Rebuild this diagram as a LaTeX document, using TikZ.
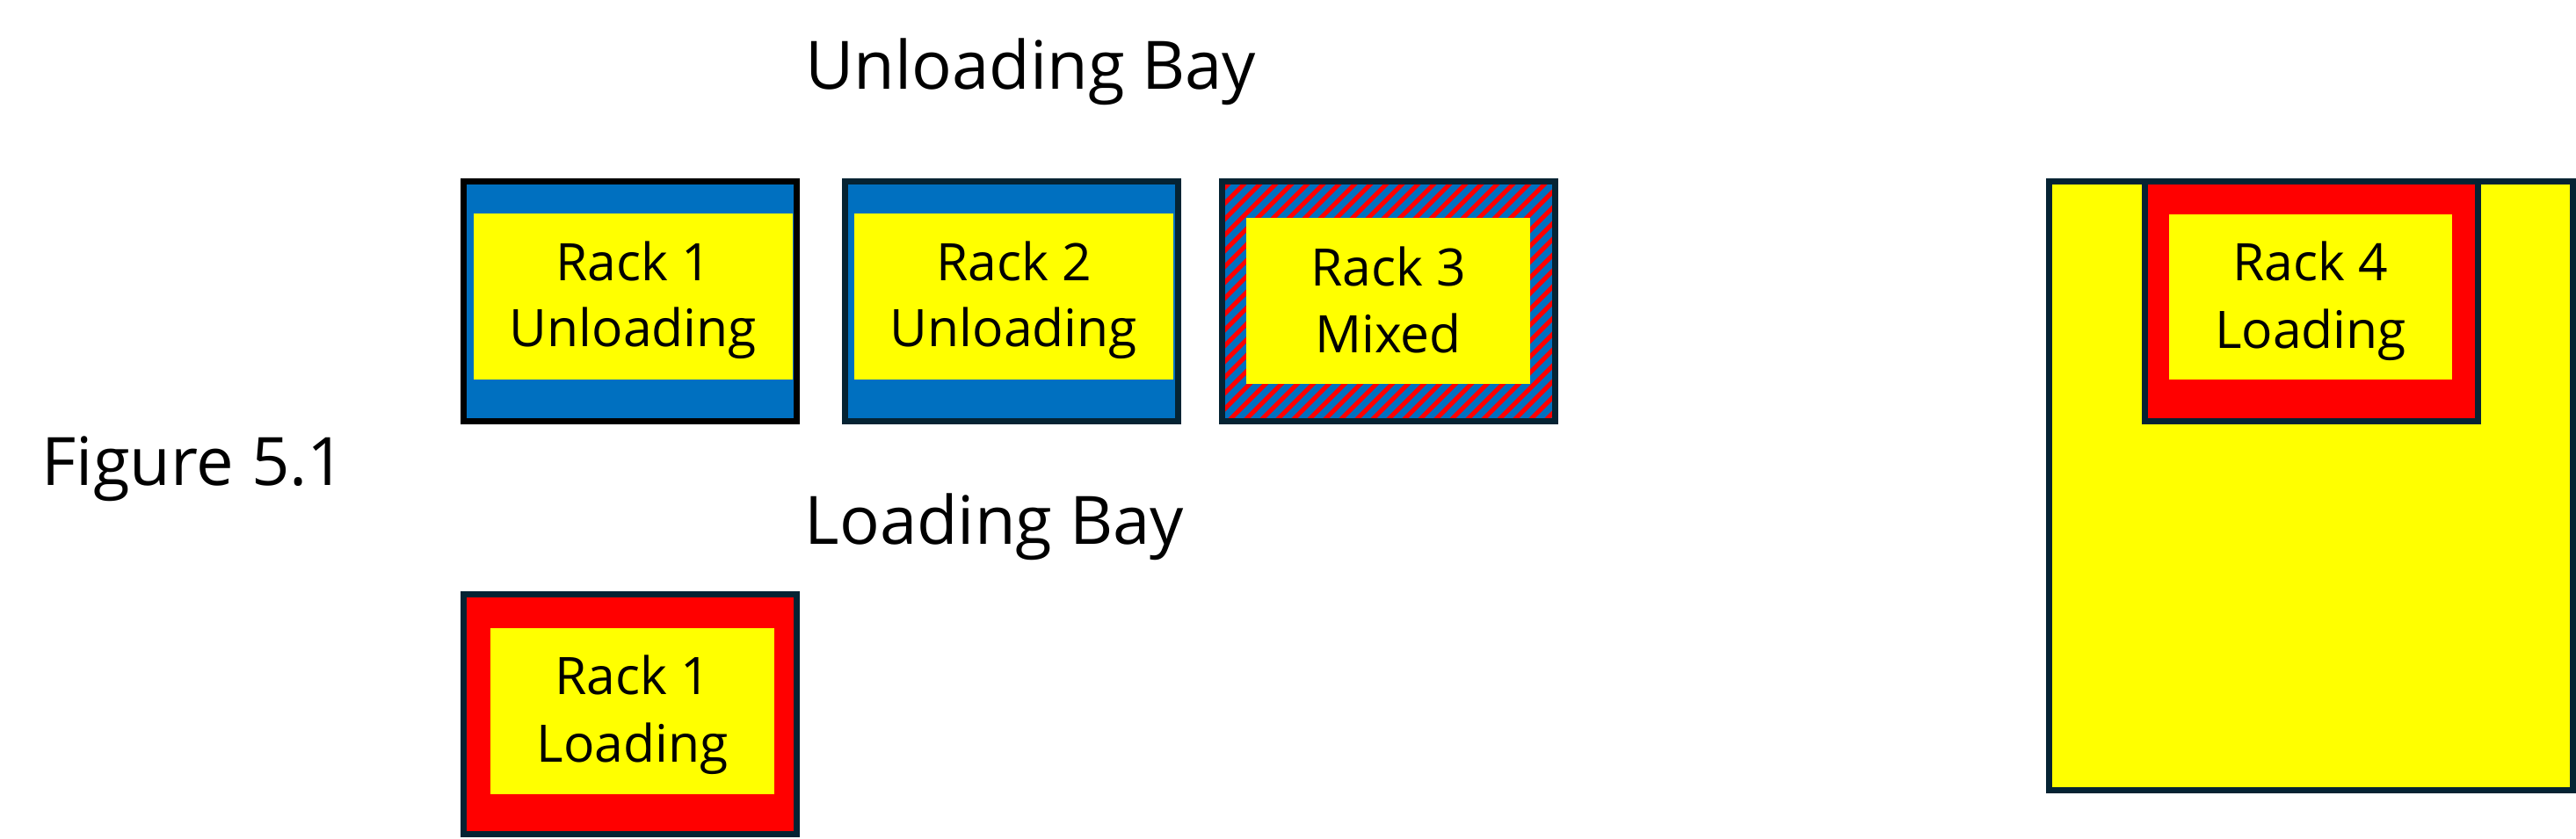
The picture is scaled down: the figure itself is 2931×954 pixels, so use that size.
\documentclass[tikz,border=0pt]{standalone}
\usepackage{fontspec}
\setmainfont{Open Sans}
\definecolor{rblue}{RGB}{0,112,192}
\definecolor{rred}{RGB}{255,0,0}
\definecolor{ryellow}{RGB}{255,255,0}
\definecolor{rnavy}{RGB}{5,35,51}
\tikzset{
  rackbox/.style={draw=rnavy, line width=7pt, minimum width=379pt, minimum height=273pt, inner sep=0pt, outer sep=0pt},
  innerbox/.style={fill=ryellow, draw=none, inner sep=0pt},
  racktext/.style={anchor=base, inner sep=0pt, font=\fontsize{58.8}{75}\selectfont},
  titletext/.style={anchor=base west, inner sep=0pt, font=\fontsize{76}{90}\selectfont},
}
\begin{document}
\begin{tikzpicture}[x=1pt,y=-1pt]
\useasboundingbox (0,0) rectangle (2931,954);
% titles
\node[titletext] (tub) at (916,101) {Unloading Bay};
\node[titletext] (tlb) at (915.5,619) {Loading Bay};
\node[titletext] (tfig) at (47.5,552) {Figure 5.1};
% Rack 1 unloading
\node[rackbox, draw=black, fill=rblue] (r1) at (717,343) {};
\node[innerbox, minimum width=363pt, minimum height=189pt] (r1i) at (720.5,337.5) {};
\node[racktext] (r1a) at (720.5,319) {Rack 1};
\node[racktext] (r1b) at (720.5,394) {Unloading};
% Rack 2 unloading
\node[rackbox, fill=rblue] (r2) at (1151,343) {};
\node[innerbox, minimum width=363pt, minimum height=189pt] (r2i) at (1153.5,337.5) {};
\node[racktext] (r2a) at (1153.5,319) {Rack 2};
\node[racktext] (r2b) at (1153.5,394) {Unloading};
% Rack 3 mixed
\node[rackbox, fill=rblue] (r3) at (1580,343) {};
\begin{scope}
  \clip (r3.south west) rectangle (r3.north east);
  \foreach \k in {-18,...,24} {
    \draw[rred, line width=5pt] (1387+\k*18,490) -- ++(295,-295);
  }
\end{scope}
\draw[draw=rnavy, line width=7pt] (r3.south west) rectangle (r3.north east);
\node[innerbox, minimum width=323pt, minimum height=189pt] (r3i) at (1579.5,342.5) {};
\node[racktext] (r3a) at (1579.5,325) {Rack 3};
\node[racktext] (r3b) at (1579.5,401) {Mixed};
% Loading bay rack 1
\node[rackbox, fill=rred] (l1) at (717,813) {};
\node[innerbox, minimum width=323pt, minimum height=189pt] (l1i) at (719.5,809.5) {};
\node[racktext] (l1a) at (719.5,790) {Rack 1};
\node[racktext] (l1b) at (719.5,867) {Loading};
% Big area with rack 4
\node[rackbox, fill=ryellow, minimum width=596pt, minimum height=693pt] (big) at (2629.5,553) {};
\node[rackbox, fill=rred] (r4) at (2630,343) {};
\node[innerbox, minimum width=322pt, minimum height=188pt] (r4i) at (2629,338) {};
\node[racktext] (r4a) at (2629,319) {Rack 4};
\node[racktext] (r4b) at (2629,396) {Loading};
\end{tikzpicture}
\end{document}
